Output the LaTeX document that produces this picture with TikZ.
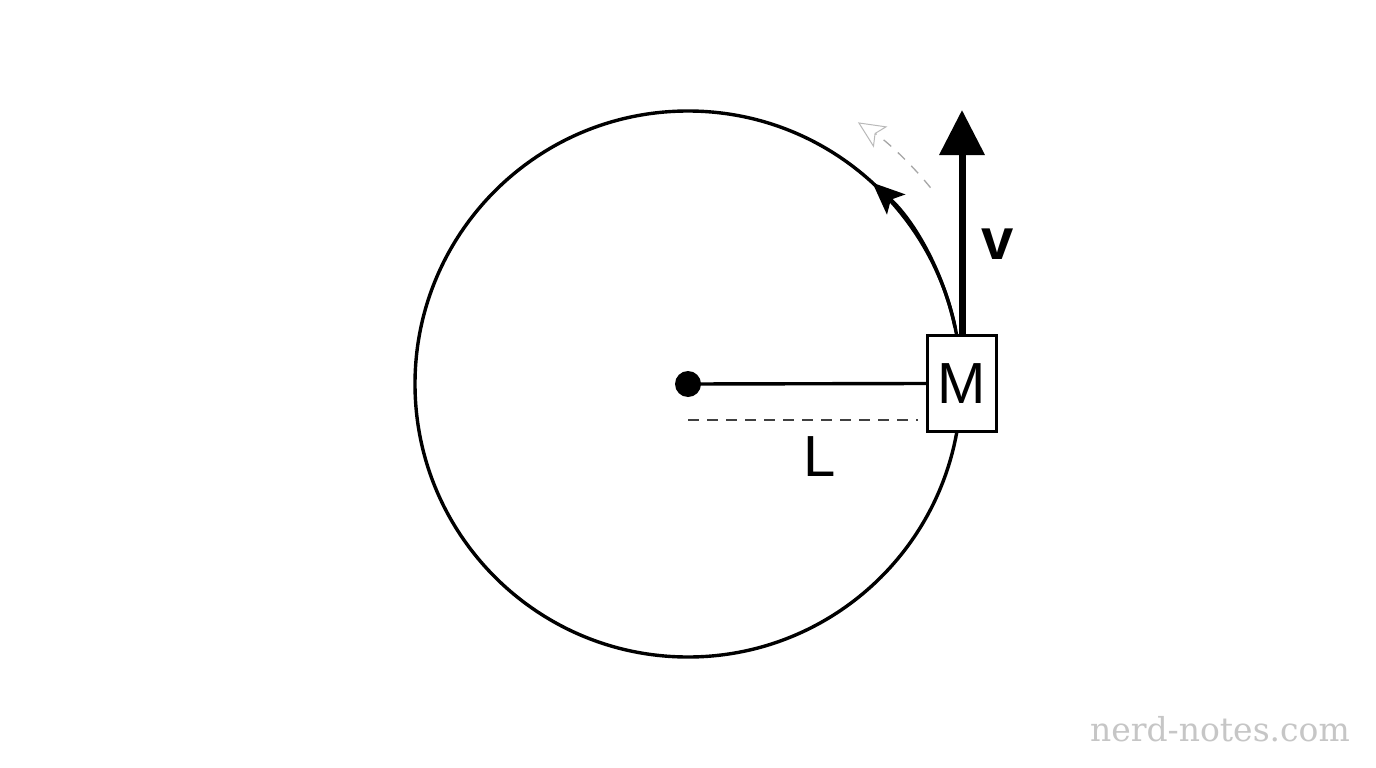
\documentclass[tikz,border=0pt]{standalone}
\usepackage{fontspec}
\setmainfont{Liberation Sans}
\newfontfamily\wmfont{DejaVu Serif}
\usetikzlibrary{arrows.meta,calc}
\begin{document}
\begin{tikzpicture}[x=1pt,y=-1pt,
  thickline/.style={line width=3.4pt, black},
  lbl/.style={font=\fontsize{58}{60}\selectfont, inner sep=0pt}]
\useasboundingbox (0,0) rectangle (1376,768);
\fill[white] (0,0) rectangle (1376,768);
\coordinate (O) at (688,384);
% circle
\draw[thickline] (O) circle[radius=273];
% arc arrow along circle
\draw[thickline, -{Stealth[length=32pt,width=27pt,inset=7pt]}] ($(O)+(-12:273)$) arc[start angle=-12, end angle=-47.5, radius=273];
% dashed grey arc
\draw[gray!70, line width=1.3pt, dash pattern=on 10pt off 9pt,
  -{Stealth[open,length=27pt,width=25pt,inset=6pt,line width=1pt,sep=0pt,color=gray!55]}]
  ($(O)+(-39:312)$) arc[start angle=-39, end angle=-57, radius=312];
% pivot
\fill (O) circle[radius=13];
\node[draw, fill=white, line width=3.4pt, minimum width=69pt, minimum height=96pt, inner sep=0pt, lbl] (M) at (962,383.5) {M};
\draw[thickline] (O) -- (M.west);
\draw[line width=1.6pt, black!75, dash pattern=on 11pt off 8pt] (688,420) -- (918,420);
\node[lbl] (L) at (820,457) {L};
% velocity
\coordinate (vtip) at (962,110);
\draw[line width=7pt, -{Triangle[length=45pt,width=44pt]}] (M.north) -- (vtip);
\node[font=\bfseries\fontsize{58}{60}\selectfont, inner sep=0pt] (v) at (998,244) {v};
% watermark
\node[font=\wmfont\fontsize{33}{36}\selectfont, text=gray!45, inner sep=0pt, anchor=base east] (wm) at (1350,741) {nerd-notes.com};
\end{tikzpicture}
\end{document}
